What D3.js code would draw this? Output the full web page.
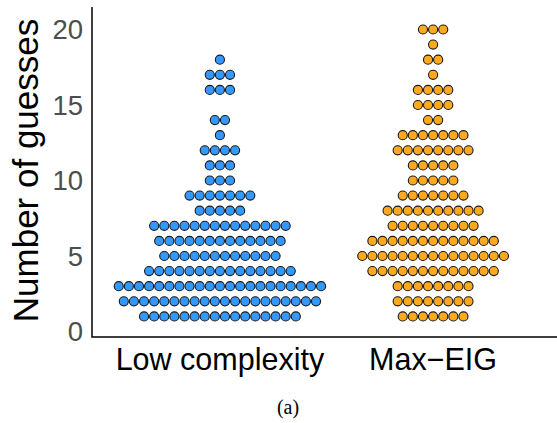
<!DOCTYPE html>
<html>
<head>
<meta charset="utf-8">
<script src="https://cdn.jsdelivr.net/npm/d3@7"></script>
<style>
  body { margin: 0; background: #fff; }
  text { font-family: "Liberation Sans", Arial, sans-serif; }
</style>
</head>
<body>
<script>
//svg size
var w = 557, h = 423;

//categories on the x axis
var groups = ["Low complexity", "Max\u2212EIG"];
var colors = ["#3399ff", "#ffa91f"];

//number of guesses (one row of dots per value)
var guessValues = [1,2,3,4,5,6,7,8,9,10,11,12,13,14,15,16,17,18,19,20];
//how many participants per value
var lowCounts = [16,20,21,15,12,13,14,5,7,3,3,4,1,2,0,3,3,1,0,0];
var eigCounts = [7,8,8,13,15,13,9,10,7,5,5,8,7,2,4,4,1,2,1,3];

var yTicks = [0, 5, 10, 15, 20];

window.onload = function(){

    var svg = d3.select("body")
        .append("svg")
        .attr("width", w)
        .attr("height", h);

    //panel edges (the panel runs a little past the right edge of the picture)
    var left = 92, right = 561, top = 7, bottom = 337;

    var y = d3.scaleLinear()
        .domain([0, 20])
        .range([331.5, 29.5]);

    var x = d3.scalePoint()
        .domain(groups)
        .range([left, right])
        .padding(0.6);

    //dot size follows the bin height like geom_dotplot
    var step = y(0) - y(1);
    var diam = step * 0.67;
    var r = diam / 2;

    //one object per dot
    var dots = [];
    [lowCounts, eigCounts].forEach(function(counts, g){
        counts.forEach(function(n, i){
            for (var k = 0; k < n; k++){
                dots.push({group: groups[g], g: g, value: guessValues[i], k: k, n: n});
            }
        });
    });

    svg.selectAll(".dot")
        .data(dots)
        .enter()
        .append("circle")
        .attr("class", "dot")
        .attr("cx", function(d){
            return x(d.group) + (d.k - (d.n - 1) / 2) * diam;
        })
        .attr("cy", function(d){ return y(d.value); })
        .attr("r", r - 0.5)
        .style("fill", function(d){ return colors[d.g]; })
        .style("stroke", "#1a1a1a")
        .style("stroke-width", 1.1);

    //axis lines (no tick marks)
    svg.append("path")
        .attr("d", "M" + left + "," + top + "V" + bottom + "H" + right)
        .style("fill", "none")
        .style("stroke", "#000")
        .style("stroke-width", 1.5);

    //y tick labels
    svg.selectAll(".ytick")
        .data(yTicks)
        .enter()
        .append("text")
        .attr("class", "ytick")
        .attr("x", 83)
        .attr("y", function(d){ return y(d); })
        .attr("dy", "0.36em")
        .attr("text-anchor", "end")
        .style("font-size", "27.5px")
        .style("fill", "#4d4d4d")
        .text(function(d){ return d; });

    //x category labels
    svg.selectAll(".xlab")
        .data(groups)
        .enter()
        .append("text")
        .attr("class", "xlab")
        .attr("x", function(d){ return x(d); })
        .attr("y", 370)
        .attr("text-anchor", "middle")
        .style("font-size", "30.5px")
        .style("fill", "#000")
        .text(function(d){ return d; });

    //y title
    svg.append("text")
        .attr("transform", "translate(38,170.5) rotate(-90)")
        .attr("text-anchor", "middle")
        .style("font-size", "35px")
        .style("fill", "#000")
        .text("Number of guesses");

    //caption
    svg.append("text")
        .attr("x", 288)
        .attr("y", 414)
        .attr("text-anchor", "middle")
        .style("font-family", "'Liberation Serif', 'Times New Roman', serif")
        .style("font-size", "20px")
        .style("fill", "#000")
        .text("(a)");
};
</script>
</body>
</html>
